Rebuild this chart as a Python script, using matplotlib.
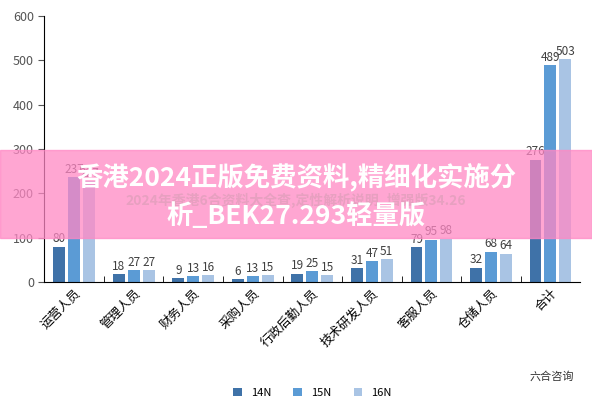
import matplotlib.pyplot as plt
import numpy as np

plt.rcParams['font.family'] = ['Noto Sans CJK SC', 'DejaVu Sans']

categories = ['运营人员', '管理人员', '财务人员', '采购人员', '行政后勤人员',
              '技术研发人员', '客服人员', '仓储人员', '合计']
n14 = [80, 18, 9, 6, 19, 31, 79, 32, 276]
n15 = [237, 27, 13, 13, 25, 47, 95, 68, 489]
n16 = [227, 27, 16, 15, 15, 51, 98, 64, 503]
series = {'14N': n14, '15N': n15, '16N': n16}
colors = {'14N': '#3f72a8', '15N': '#5b9bd5', '16N': '#a9c4e4'}

fig = plt.figure(figsize=(5.92, 4.0), dpi=100)
ax = fig.add_axes([0.075, 0.295, 0.905, 0.665])
x = np.arange(len(categories))
width = 0.25
for i, (name, vals) in enumerate(series.items()):
    rects = ax.bar(x + (i - 1) * width, vals, width * 0.8, label=name, color=colors[name])
    ax.bar_label(rects, fontsize=8.5, padding=1, color='#404040')

ax.set_ylim(0, 600)
ax.set_xlim(-0.5, len(categories) - 0.5)
ax.set_yticks(range(0, 601, 100))
ax.set_xticks(x)
ax.set_xticklabels(categories, rotation=45, ha='right', rotation_mode='anchor', fontsize=9)
ax.tick_params(axis='y', labelsize=9, colors='#555555', length=4)
ax.tick_params(axis='x', length=0)
for s in ['top', 'right']:
    ax.spines[s].set_visible(False)
ax.set_xticks(x[:-1] + 0.5, minor=True)
ax.tick_params(axis='x', which='minor', length=4, direction='in')
ax.legend(loc='upper center', bbox_to_anchor=(0.5, -0.36), ncol=3, frameon=False, fontsize=8,
          handlelength=0.8, handleheight=0.8)

# pink watermark banner
fig.patches.append(plt.Rectangle((0, 0.405), 1, 0.22, transform=fig.transFigure,
                                 color='#ff88c4', alpha=0.75, zorder=5))
fig.text(0.5, 0.5, '2024年香港6合资料大全查,定性解析说明_增强版34.26', ha='center', va='center',
         fontsize=10, color='#e7a0c0', weight='bold', zorder=6)
fig.text(0.5, 0.555, '香港2024正版免费资料,精细化实施分', ha='center', va='center',
         fontsize=19, color='white', weight='bold', zorder=7)
fig.text(0.5, 0.46, '析_BEK27.293轻量版', ha='center', va='center',
         fontsize=19, color='white', weight='bold', zorder=7)
fig.text(0.97, 0.06, '六合咨询', ha='right', va='center', fontsize=8, color='#333333')

fig.savefig('out.png', dpi=100)
